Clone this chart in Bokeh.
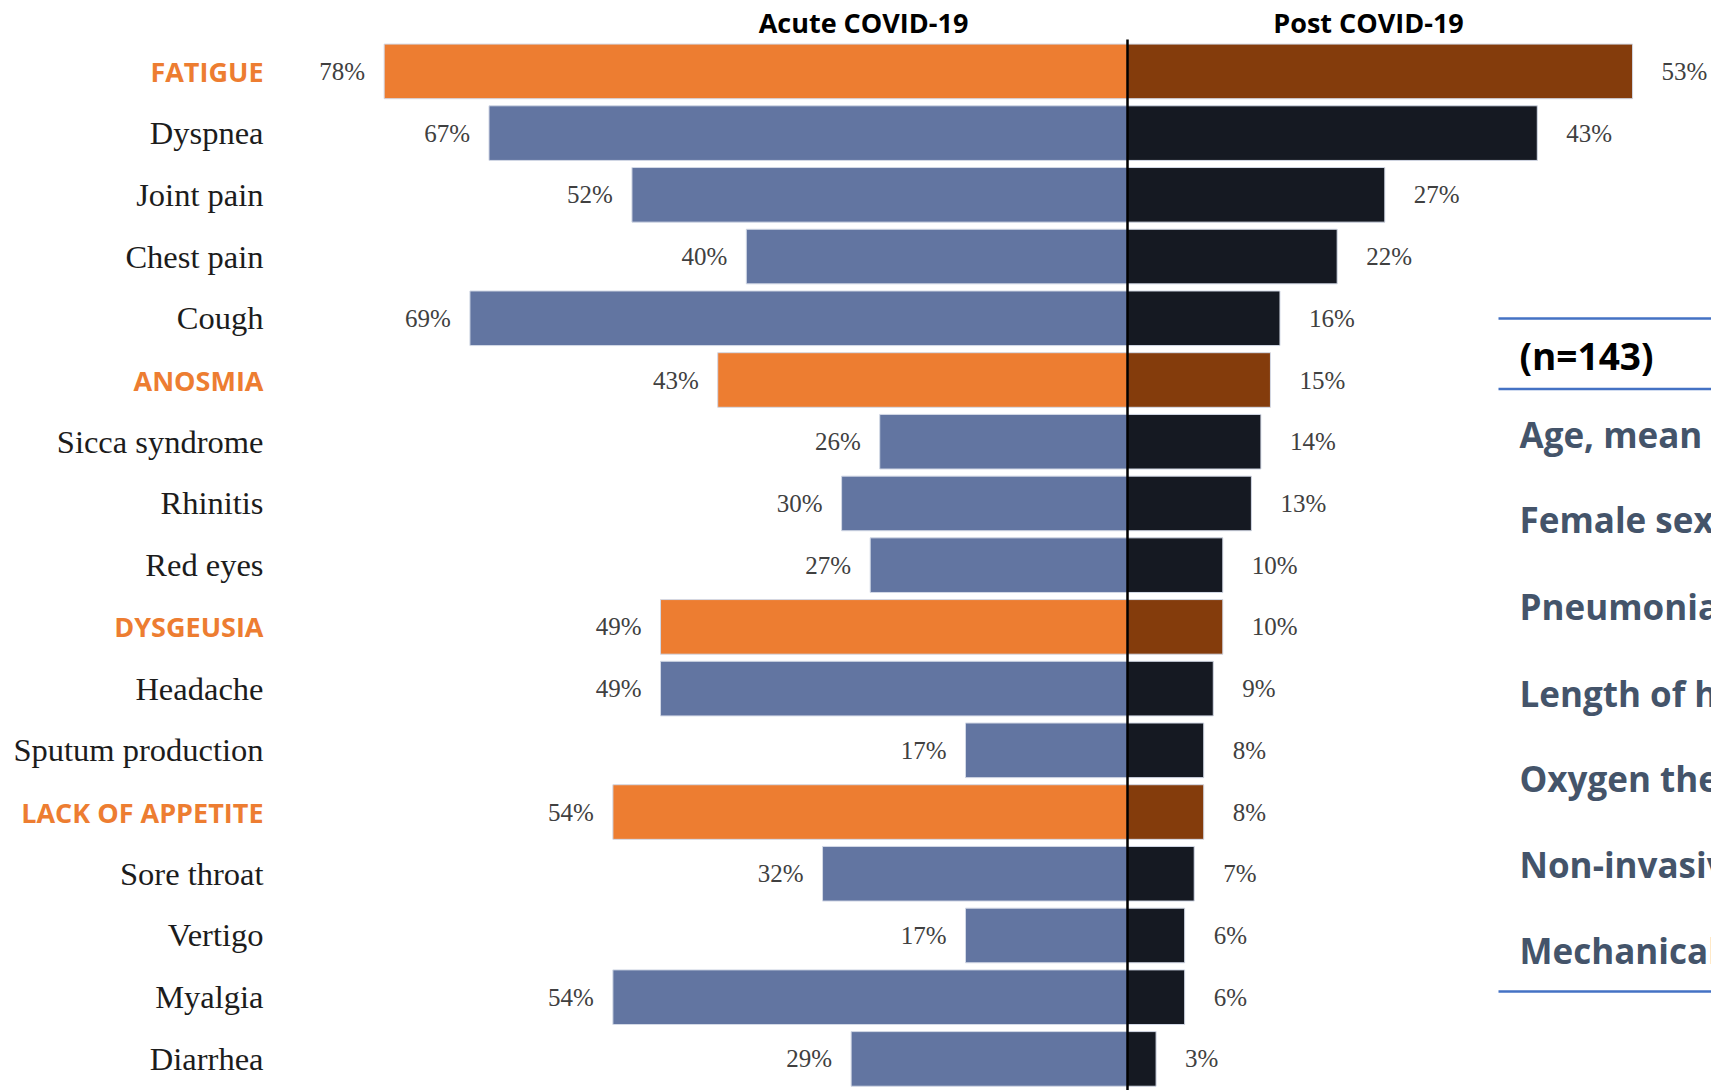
from bokeh.plotting import figure
from bokeh.models import Range1d, ColumnDataSource
from bokeh.core.properties import value
from bokeh.embed import file_html
from bokeh.resources import INLINE

# ---------------- data ----------------
symptoms = ["FATIGUE", "Dyspnea", "Joint pain", "Chest pain", "Cough", "ANOSMIA",
            "Sicca syndrome", "Rhinitis", "Red eyes", "DYSGEUSIA", "Headache",
            "Sputum production", "LACK OF APPETITE", "Sore throat", "Vertigo",
            "Myalgia", "Diarrhea"]
acute = [78, 67, 52, 40, 69, 43, 26, 30, 27, 49, 49, 17, 54, 32, 17, 54, 29]
post = [53, 43, 27, 22, 16, 15, 14, 13, 10, 10, 9, 8, 8, 7, 6, 6, 3]
highlight = [s.isupper() for s in symptoms]
panel_titles = ["Acute COVID-19", "Post COVID-19"]
table_header = "(n=143)"
table_rows = ["Age, mean (SD)", "Female sex", "Pneumonia", "Length of hospital stay",
              "Oxygen therapy", "Non-invasive ventilation", "Mechanical ventilation"]

# ---------------- layout helpers ----------------
W, H = 1711, 1090
X0_PX = 1127.0          # screen x of 0 %
PX_PER_PCT = 9.53
ROW0_PX = 70.9          # screen y of first row centre
ROW_PITCH = 61.72

def dx(px):
    return (px - X0_PX) / PX_PER_PCT

Y_TOP = ROW0_PX / ROW_PITCH
Y_BOT = -(H - ROW0_PX) / ROW_PITCH

def dy(px):
    return Y_TOP - px / ROW_PITCH

ORANGE, BROWN, BLUE, DARK = "#ED7D31", "#843C0C", "#6275A1", "#151922"

rows = [-i for i in range(len(symptoms))]
src = ColumnDataSource(dict(
    y=rows,
    acute=[-a for a in acute],
    post=post,
    acute_lbl=[f"{a}%" for a in acute],
    post_lbl=[f"{v}%" for v in post],
    acol=[ORANGE if h else BLUE for h in highlight],
    pcol=[BROWN if h else DARK for h in highlight],
    name=symptoms,
))

p = figure(width=W, height=H, output_backend="svg", toolbar_location=None,
           x_range=Range1d(dx(0), dx(W)), y_range=Range1d(Y_BOT, Y_TOP),
           min_border=0, outline_line_color=None)
p.axis.visible = False
p.grid.visible = False
p.background_fill_color = "white"
p.border_fill_color = "white"

# bars
p.hbar(y="y", left="acute", right=0, height=0.885, source=src,
       fill_color="acol", line_color="#d3d9e6", line_width=1)
p.hbar(y="y", left=0, right="post", height=0.885, source=src,
       fill_color="pcol", line_color="#d3d9e6", line_width=1)

# centre line
p.segment(x0=[0], y0=[dy(39)], x1=[0], y1=[Y_BOT], line_color="black", line_width=2.5)

# value labels
p.text(x="acute", y="y", text="acute_lbl", source=src, x_offset=-19,
       text_align="right", text_baseline="middle", text_font=value("Liberation Serif"),
       text_font_size="25px", text_color="#404040")
p.text(x="post", y="y", text="post_lbl", source=src, x_offset=29,
       text_align="left", text_baseline="middle", text_font=value("Liberation Serif"),
       text_font_size="25px", text_color="#404040")

# category labels
lab_x = dx(263)
plain = ColumnDataSource(dict(
    x=[lab_x] * sum(not h for h in highlight),
    y=[r for r, h in zip(rows, highlight) if not h],
    t=[s for s, h in zip(symptoms, highlight) if not h]))
hi = ColumnDataSource(dict(
    x=[lab_x] * sum(highlight),
    y=[r for r, h in zip(rows, highlight) if h],
    t=[s for s, h in zip(symptoms, highlight) if h]))
p.text(x="x", y="y", text="t", source=plain, text_align="right", text_baseline="middle",
       text_font=value("Liberation Serif"), text_font_size="32.5px", text_color="#1c1c1c")
p.text(x="x", y="y", text="t", source=hi, text_align="right", text_baseline="middle",
       text_font=value("Open Sans"), text_font_style="bold", text_font_size="27px",
       text_color=ORANGE)

# panel titles
p.text(x=[dx(863), dx(1368)], y=[dy(22), dy(22)], text=panel_titles,
       text_align="center", text_baseline="middle", text_font=value("Open Sans"),
       text_font_style="bold", text_font_size="27px", text_color="black")

# table fragment on the right
line_ys = [dy(318), dy(388.5), dy(991)]
p.segment(x0=[dx(1498)] * 3, y0=line_ys, x1=[dx(W + 5)] * 3, y1=line_ys,
          line_color="#4472C4", line_width=2.5)
p.text(x=[dx(1519)], y=[dy(355)], text=[table_header], text_align="left",
       text_baseline="middle", text_font=value("Open Sans"), text_font_style="bold",
       text_font_size="37px", text_color="black")
row_px = [434, 519, 606, 693, 778, 864, 950]
p.text(x=[dx(1519)] * len(table_rows), y=[dy(v) for v in row_px], text=table_rows,
       text_align="left", text_baseline="middle", text_font=value("Open Sans"),
       text_font_style="bold", text_font_size="35px", text_color="#44546A")

open("out.html", "w").write(file_html(p, INLINE))
